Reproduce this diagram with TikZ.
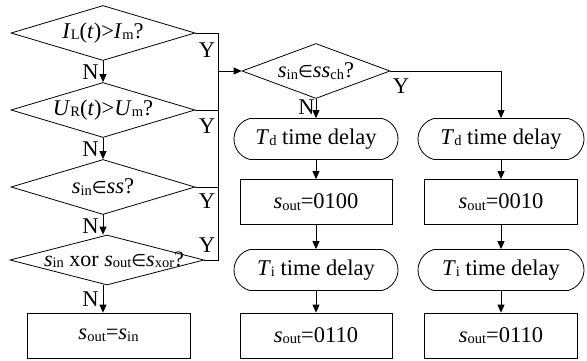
\documentclass[tikz,border=0pt]{standalone}
\usepackage{fontspec}
\setmainfont{Liberation Serif}
\newfontfamily\symf{DejaVu Sans}
\usetikzlibrary{shapes.geometric,shapes.misc,arrows.meta}
\newcommand{\sbs}[1]{\raisebox{-1.5pt}{\fontsize{14.5}{14.5}\selectfont #1}}
\newcommand{\elm}{{\symf\fontsize{17}{17}\selectfont ∈}}
\begin{document}
\begin{tikzpicture}[x=1pt,y=-1pt,
  every node/.style={font=\fontsize{22.5}{26}\selectfont},
  ln/.style={line width=0.8pt},
  arr/.style={ln,-{Triangle[length=8pt,width=7pt]}},
  dia/.style={draw,ln,shape=diamond,inner sep=0pt,minimum width=184pt,minimum height=55pt},
  rbox/.style={draw,ln,rectangle,inner sep=0pt,minimum width=152pt,minimum height=45pt},
  tbox/.style={draw,ln,rounded rectangle,rounded rectangle arc length=150,inner sep=0pt,minimum width=164pt,minimum height=41pt},
  lab/.style={inner sep=1pt},
  nlab/.style={inner sep=4pt,left}]
\useasboundingbox (0,0) rectangle (587,361);
% left column
\node[dia] (d1) at (103,33) {\makebox[0pt]{\textit{I}\sbs{L}(\textit{t})>\textit{I}\sbs{m}?}};
\node[dia] (d2) at (103,110) {\makebox[0pt]{\textit{U}\sbs{R}(\textit{t})>\textit{U}\sbs{m}?}};
\node[dia] (d3) at (103,187) {\makebox[0pt]{\textit{s}\sbs{in}\elm\textit{ss}?}};
\node[dia,minimum width=194pt,minimum height=50pt] (d4) at (107,260) {};
\node[inner sep=0pt,font=\fontsize{22}{24}\selectfont] (d4t) at (114,260) {\textit{s}\sbs{in} xor \textit{s}\sbs{out}\elm\textit{s}\sbs{xor}?};
\node[rbox,minimum width=163pt] (b0) at (108.5,335.5) {\textit{s}\sbs{out}=\textit{s}\sbs{in}};
\draw[arr] (d1.south) -- node[nlab,pos=0.55]{N} (d2.north);
\draw[arr] (d2.south) -- node[nlab,pos=0.55]{N} (d3.north);
\draw[arr] (d3.south) -- node[nlab,pos=0.55]{N} (d4.north -| d3.south);
\draw[arr] (d4.south -| d3.south) -- node[nlab,pos=0.5]{N} (b0.north -| d3.south);
% bus
\coordinate (bt) at (218,33);
\coordinate (bb) at (218,260);
\coordinate (ba) at (218,71);
\draw[ln] (d1.east) -- (bt) -- (bb) -- (d4.east);
\draw[ln] (d2.east) -- (d2.east -| bt);
\draw[ln] (d3.east) -- (d3.east -| bt);
\node[lab] (y1) at (207,50) {Y};
\node[lab] (y2) at (207,126) {Y};
\node[lab] (y3) at (207,201) {Y};
\node[lab] (y4) at (207,245) {Y};
% middle
\node[dia,minimum width=148pt] (d5) at (316,71) {\makebox[0pt]{\textit{s}\sbs{in}\elm\textit{ss}\sbs{ch}?}};
\draw[arr] (ba) -- (d5.west);
\node[tbox] (t1) at (316,139) {\textit{T}\sbs{d} time delay};
\node[rbox] (r1) at (316,202) {\textit{s}\sbs{out}=0100};
\node[tbox] (i1) at (316,270) {\textit{T}\sbs{i} time delay};
\node[rbox] (o1) at (316,335.5) {\textit{s}\sbs{out}=0110};
\draw[arr] (d5.south) -- node[nlab,inner sep=1pt,pos=0.45]{N} (t1.north);
\draw[arr] (t1.south) -- (r1.north);
\draw[arr] (r1.south) -- (i1.north);
\draw[arr] (i1.south) -- (o1.north);
% right
\node[tbox,minimum width=166pt] (t2) at (501,139) {\textit{T}\sbs{d} time delay};
\node[rbox,minimum width=153pt] (r2) at (501,202) {\textit{s}\sbs{out}=0010};
\node[tbox,minimum width=166pt] (i2) at (501,270) {\textit{T}\sbs{i} time delay};
\node[rbox,minimum width=153pt] (o2) at (501,335.5) {\textit{s}\sbs{out}=0110};
\draw[arr] (d5.east) -| (t2.north);
\node[lab] (y5) at (401,86) {Y};
\draw[arr] (t2.south) -- (r2.north);
\draw[arr] (r2.south) -- (i2.north);
\draw[arr] (i2.south) -- (o2.north);
\end{tikzpicture}
\end{document}
